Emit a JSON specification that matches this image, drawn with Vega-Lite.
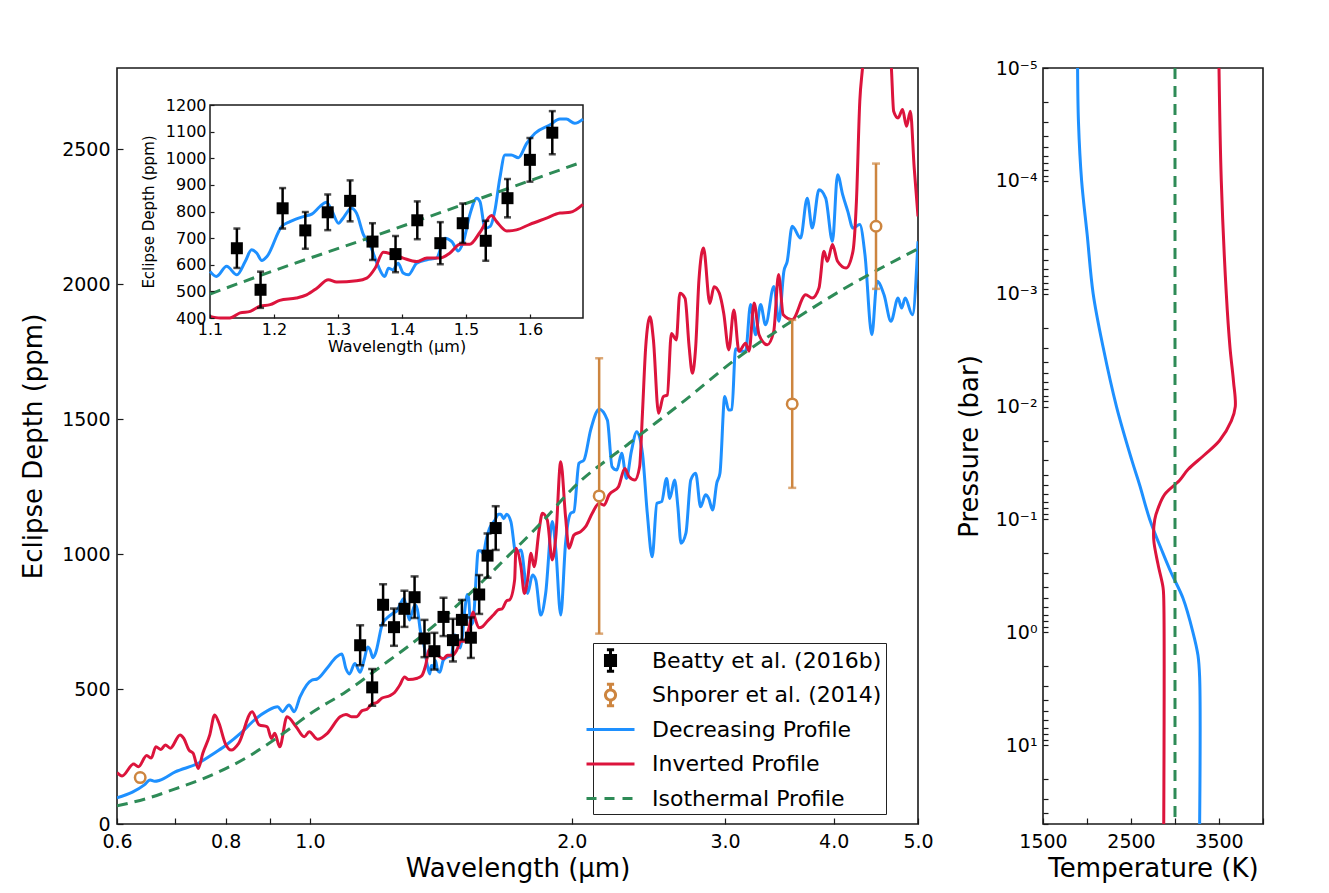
{
  "$schema": "https://vega.github.io/schema/vega-lite/v6.json",
  "background": "white",
  "padding": {"left": 19, "top": 58, "right": 5, "bottom": 5},
  "bounds": "flush",
  "spacing": 125,
  "config": {
    "font": "DejaVu Sans",
    "view": {"stroke": "#1a1a1a", "strokeWidth": 1.6},
    "axis": {"grid": false, "domain": false, "labelColor": "#000", "titleColor": "#000", "titleFontWeight": "normal", "tickColor": "#1a1a1a", "tickWidth": 1.2, "labelFlush": false, "labelOverlap": false, "labelBound": false},
    "legend": {"labelColor": "#000"}
  },
  "datasets": {
    "models": [
      {"series":"Decreasing Profile","wl":0.600,"depth":97},
      {"series":"Decreasing Profile","wl":0.625,"depth":118},
      {"series":"Decreasing Profile","wl":0.645,"depth":145},
      {"series":"Decreasing Profile","wl":0.655,"depth":163},
      {"series":"Decreasing Profile","wl":0.663,"depth":158},
      {"series":"Decreasing Profile","wl":0.672,"depth":162},
      {"series":"Decreasing Profile","wl":0.700,"depth":193},
      {"series":"Decreasing Profile","wl":0.744,"depth":225},
      {"series":"Decreasing Profile","wl":0.776,"depth":262},
      {"series":"Decreasing Profile","wl":0.799,"depth":290},
      {"series":"Decreasing Profile","wl":0.835,"depth":340},
      {"series":"Decreasing Profile","wl":0.863,"depth":385},
      {"series":"Decreasing Profile","wl":0.894,"depth":420},
      {"series":"Decreasing Profile","wl":0.918,"depth":434},
      {"series":"Decreasing Profile","wl":0.930,"depth":416},
      {"series":"Decreasing Profile","wl":0.946,"depth":441},
      {"series":"Decreasing Profile","wl":0.959,"depth":416},
      {"series":"Decreasing Profile","wl":0.974,"depth":471},
      {"series":"Decreasing Profile","wl":1.005,"depth":533},
      {"series":"Decreasing Profile","wl":1.019,"depth":537},
      {"series":"Decreasing Profile","wl":1.045,"depth":575},
      {"series":"Decreasing Profile","wl":1.072,"depth":618},
      {"series":"Decreasing Profile","wl":1.088,"depth":630},
      {"series":"Decreasing Profile","wl":1.100,"depth":575},
      {"series":"Decreasing Profile","wl":1.110,"depth":556},
      {"series":"Decreasing Profile","wl":1.126,"depth":594},
      {"series":"Decreasing Profile","wl":1.142,"depth":562},
      {"series":"Decreasing Profile","wl":1.155,"depth":612},
      {"series":"Decreasing Profile","wl":1.165,"depth":656},
      {"series":"Decreasing Profile","wl":1.173,"depth":644},
      {"series":"Decreasing Profile","wl":1.181,"depth":616},
      {"series":"Decreasing Profile","wl":1.189,"depth":631},
      {"series":"Decreasing Profile","wl":1.212,"depth":744},
      {"series":"Decreasing Profile","wl":1.225,"depth":762},
      {"series":"Decreasing Profile","wl":1.246,"depth":781},
      {"series":"Decreasing Profile","wl":1.259,"depth":790},
      {"series":"Decreasing Profile","wl":1.272,"depth":819},
      {"series":"Decreasing Profile","wl":1.282,"depth":835},
      {"series":"Decreasing Profile","wl":1.290,"depth":806},
      {"series":"Decreasing Profile","wl":1.301,"depth":756},
      {"series":"Decreasing Profile","wl":1.308,"depth":775},
      {"series":"Decreasing Profile","wl":1.321,"depth":812},
      {"series":"Decreasing Profile","wl":1.329,"depth":794},
      {"series":"Decreasing Profile","wl":1.340,"depth":712},
      {"series":"Decreasing Profile","wl":1.350,"depth":675},
      {"series":"Decreasing Profile","wl":1.362,"depth":600},
      {"series":"Decreasing Profile","wl":1.373,"depth":556},
      {"series":"Decreasing Profile","wl":1.379,"depth":587},
      {"series":"Decreasing Profile","wl":1.386,"depth":581},
      {"series":"Decreasing Profile","wl":1.394,"depth":606},
      {"series":"Decreasing Profile","wl":1.402,"depth":569},
      {"series":"Decreasing Profile","wl":1.410,"depth":562},
      {"series":"Decreasing Profile","wl":1.423,"depth":606},
      {"series":"Decreasing Profile","wl":1.439,"depth":619},
      {"series":"Decreasing Profile","wl":1.454,"depth":625},
      {"series":"Decreasing Profile","wl":1.467,"depth":700},
      {"series":"Decreasing Profile","wl":1.478,"depth":687},
      {"series":"Decreasing Profile","wl":1.488,"depth":652},
      {"series":"Decreasing Profile","wl":1.496,"depth":687},
      {"series":"Decreasing Profile","wl":1.506,"depth":787},
      {"series":"Decreasing Profile","wl":1.517,"depth":850},
      {"series":"Decreasing Profile","wl":1.522,"depth":837},
      {"series":"Decreasing Profile","wl":1.530,"depth":737},
      {"series":"Decreasing Profile","wl":1.538,"depth":744},
      {"series":"Decreasing Profile","wl":1.545,"depth":800},
      {"series":"Decreasing Profile","wl":1.553,"depth":925},
      {"series":"Decreasing Profile","wl":1.561,"depth":1012},
      {"series":"Decreasing Profile","wl":1.571,"depth":1012},
      {"series":"Decreasing Profile","wl":1.582,"depth":1002},
      {"series":"Decreasing Profile","wl":1.595,"depth":1056},
      {"series":"Decreasing Profile","wl":1.608,"depth":1094},
      {"series":"Decreasing Profile","wl":1.631,"depth":1125},
      {"series":"Decreasing Profile","wl":1.647,"depth":1147},
      {"series":"Decreasing Profile","wl":1.657,"depth":1147},
      {"series":"Decreasing Profile","wl":1.670,"depth":1131},
      {"series":"Decreasing Profile","wl":1.683,"depth":1147},
      {"series":"Decreasing Profile","wl":1.702,"depth":1120},
      {"series":"Decreasing Profile","wl":1.725,"depth":1003},
      {"series":"Decreasing Profile","wl":1.748,"depth":1015},
      {"series":"Decreasing Profile","wl":1.779,"depth":854},
      {"series":"Decreasing Profile","wl":1.802,"depth":922},
      {"series":"Decreasing Profile","wl":1.818,"depth":904},
      {"series":"Decreasing Profile","wl":1.842,"depth":774},
      {"series":"Decreasing Profile","wl":1.866,"depth":854},
      {"series":"Decreasing Profile","wl":1.899,"depth":1120},
      {"series":"Decreasing Profile","wl":1.917,"depth":1015},
      {"series":"Decreasing Profile","wl":1.942,"depth":774},
      {"series":"Decreasing Profile","wl":1.967,"depth":1040},
      {"series":"Decreasing Profile","wl":1.994,"depth":1151},
      {"series":"Decreasing Profile","wl":2.011,"depth":1157},
      {"series":"Decreasing Profile","wl":2.038,"depth":1336},
      {"series":"Decreasing Profile","wl":2.065,"depth":1348},
      {"series":"Decreasing Profile","wl":2.102,"depth":1459},
      {"series":"Decreasing Profile","wl":2.150,"depth":1536},
      {"series":"Decreasing Profile","wl":2.197,"depth":1496},
      {"series":"Decreasing Profile","wl":2.225,"depth":1323},
      {"series":"Decreasing Profile","wl":2.253,"depth":1311},
      {"series":"Decreasing Profile","wl":2.282,"depth":1373},
      {"series":"Decreasing Profile","wl":2.311,"depth":1280},
      {"series":"Decreasing Profile","wl":2.341,"depth":1379},
      {"series":"Decreasing Profile","wl":2.375,"depth":1453},
      {"series":"Decreasing Profile","wl":2.411,"depth":1373},
      {"series":"Decreasing Profile","wl":2.442,"depth":1151},
      {"series":"Decreasing Profile","wl":2.474,"depth":990},
      {"series":"Decreasing Profile","wl":2.505,"depth":1188},
      {"series":"Decreasing Profile","wl":2.537,"depth":1194},
      {"series":"Decreasing Profile","wl":2.570,"depth":1280},
      {"series":"Decreasing Profile","wl":2.592,"depth":1206},
      {"series":"Decreasing Profile","wl":2.625,"depth":1274},
      {"series":"Decreasing Profile","wl":2.648,"depth":1175},
      {"series":"Decreasing Profile","wl":2.670,"depth":1040},
      {"series":"Decreasing Profile","wl":2.705,"depth":1077},
      {"series":"Decreasing Profile","wl":2.740,"depth":1274},
      {"series":"Decreasing Profile","wl":2.776,"depth":1299},
      {"series":"Decreasing Profile","wl":2.812,"depth":1175},
      {"series":"Decreasing Profile","wl":2.849,"depth":1219},
      {"series":"Decreasing Profile","wl":2.873,"depth":1206},
      {"series":"Decreasing Profile","wl":2.903,"depth":1163},
      {"series":"Decreasing Profile","wl":2.935,"depth":1262},
      {"series":"Decreasing Profile","wl":2.960,"depth":1299},
      {"series":"Decreasing Profile","wl":2.998,"depth":1583},
      {"series":"Decreasing Profile","wl":3.029,"depth":1533},
      {"series":"Decreasing Profile","wl":3.055,"depth":1535},
      {"series":"Decreasing Profile","wl":3.085,"depth":1760},
      {"series":"Decreasing Profile","wl":3.126,"depth":1751},
      {"series":"Decreasing Profile","wl":3.168,"depth":1751},
      {"series":"Decreasing Profile","wl":3.210,"depth":1924},
      {"series":"Decreasing Profile","wl":3.253,"depth":1812},
      {"series":"Decreasing Profile","wl":3.296,"depth":1924},
      {"series":"Decreasing Profile","wl":3.340,"depth":1849},
      {"series":"Decreasing Profile","wl":3.414,"depth":1991},
      {"series":"Decreasing Profile","wl":3.460,"depth":1862},
      {"series":"Decreasing Profile","wl":3.506,"depth":2047},
      {"series":"Decreasing Profile","wl":3.537,"depth":2084},
      {"series":"Decreasing Profile","wl":3.584,"depth":2214},
      {"series":"Decreasing Profile","wl":3.664,"depth":2170},
      {"series":"Decreasing Profile","wl":3.729,"depth":2318},
      {"series":"Decreasing Profile","wl":3.779,"depth":2207},
      {"series":"Decreasing Profile","wl":3.847,"depth":2349},
      {"series":"Decreasing Profile","wl":3.916,"depth":2318},
      {"series":"Decreasing Profile","wl":3.987,"depth":2158},
      {"series":"Decreasing Profile","wl":4.041,"depth":2405},
      {"series":"Decreasing Profile","wl":4.096,"depth":2331},
      {"series":"Decreasing Profile","wl":4.152,"depth":2269},
      {"series":"Decreasing Profile","wl":4.209,"depth":2207},
      {"series":"Decreasing Profile","wl":4.286,"depth":2220},
      {"series":"Decreasing Profile","wl":4.345,"depth":2109},
      {"series":"Decreasing Profile","wl":4.425,"depth":1812},
      {"series":"Decreasing Profile","wl":4.487,"depth":2010},
      {"series":"Decreasing Profile","wl":4.570,"depth":1960},
      {"series":"Decreasing Profile","wl":4.655,"depth":1862},
      {"series":"Decreasing Profile","wl":4.743,"depth":1948},
      {"series":"Decreasing Profile","wl":4.788,"depth":1911},
      {"series":"Decreasing Profile","wl":4.833,"depth":1948},
      {"series":"Decreasing Profile","wl":4.926,"depth":1886},
      {"series":"Decreasing Profile","wl":5.000,"depth":2158},
      {"series":"Inverted Profile","wl":0.600,"depth":190},
      {"series":"Inverted Profile","wl":0.608,"depth":178},
      {"series":"Inverted Profile","wl":0.627,"depth":222},
      {"series":"Inverted Profile","wl":0.635,"depth":212},
      {"series":"Inverted Profile","wl":0.649,"depth":254},
      {"series":"Inverted Profile","wl":0.657,"depth":244},
      {"series":"Inverted Profile","wl":0.665,"depth":286},
      {"series":"Inverted Profile","wl":0.674,"depth":276},
      {"series":"Inverted Profile","wl":0.682,"depth":293},
      {"series":"Inverted Profile","wl":0.691,"depth":281},
      {"series":"Inverted Profile","wl":0.709,"depth":330},
      {"series":"Inverted Profile","wl":0.716,"depth":317},
      {"series":"Inverted Profile","wl":0.726,"depth":274},
      {"series":"Inverted Profile","wl":0.734,"depth":262},
      {"series":"Inverted Profile","wl":0.744,"depth":206},
      {"series":"Inverted Profile","wl":0.753,"depth":262},
      {"series":"Inverted Profile","wl":0.767,"depth":330},
      {"series":"Inverted Profile","wl":0.777,"depth":404},
      {"series":"Inverted Profile","wl":0.786,"depth":373},
      {"series":"Inverted Profile","wl":0.799,"depth":299},
      {"series":"Inverted Profile","wl":0.812,"depth":274},
      {"series":"Inverted Profile","wl":0.828,"depth":299},
      {"series":"Inverted Profile","wl":0.858,"depth":416},
      {"series":"Inverted Profile","wl":0.874,"depth":367},
      {"series":"Inverted Profile","wl":0.893,"depth":360},
      {"series":"Inverted Profile","wl":0.903,"depth":317},
      {"series":"Inverted Profile","wl":0.911,"depth":336},
      {"series":"Inverted Profile","wl":0.923,"depth":286},
      {"series":"Inverted Profile","wl":0.941,"depth":397},
      {"series":"Inverted Profile","wl":0.964,"depth":360},
      {"series":"Inverted Profile","wl":0.985,"depth":323},
      {"series":"Inverted Profile","wl":0.998,"depth":342},
      {"series":"Inverted Profile","wl":1.020,"depth":314},
      {"series":"Inverted Profile","wl":1.047,"depth":336},
      {"series":"Inverted Profile","wl":1.083,"depth":397},
      {"series":"Inverted Profile","wl":1.100,"depth":406},
      {"series":"Inverted Profile","wl":1.116,"depth":397},
      {"series":"Inverted Profile","wl":1.131,"depth":397},
      {"series":"Inverted Profile","wl":1.147,"depth":419},
      {"series":"Inverted Profile","wl":1.163,"depth":425},
      {"series":"Inverted Profile","wl":1.178,"depth":444},
      {"series":"Inverted Profile","wl":1.194,"depth":450},
      {"series":"Inverted Profile","wl":1.209,"depth":466},
      {"series":"Inverted Profile","wl":1.235,"depth":475},
      {"series":"Inverted Profile","wl":1.251,"depth":487},
      {"series":"Inverted Profile","wl":1.267,"depth":512},
      {"series":"Inverted Profile","wl":1.285,"depth":544},
      {"series":"Inverted Profile","wl":1.298,"depth":535},
      {"series":"Inverted Profile","wl":1.329,"depth":540},
      {"series":"Inverted Profile","wl":1.345,"depth":550},
      {"series":"Inverted Profile","wl":1.358,"depth":587},
      {"series":"Inverted Profile","wl":1.371,"depth":647},
      {"series":"Inverted Profile","wl":1.384,"depth":640},
      {"series":"Inverted Profile","wl":1.402,"depth":625},
      {"series":"Inverted Profile","wl":1.423,"depth":612},
      {"series":"Inverted Profile","wl":1.439,"depth":625},
      {"series":"Inverted Profile","wl":1.459,"depth":625},
      {"series":"Inverted Profile","wl":1.475,"depth":644},
      {"series":"Inverted Profile","wl":1.491,"depth":677},
      {"series":"Inverted Profile","wl":1.506,"depth":677},
      {"series":"Inverted Profile","wl":1.522,"depth":722},
      {"series":"Inverted Profile","wl":1.540,"depth":785},
      {"series":"Inverted Profile","wl":1.548,"depth":762},
      {"series":"Inverted Profile","wl":1.564,"depth":727},
      {"series":"Inverted Profile","wl":1.579,"depth":731},
      {"series":"Inverted Profile","wl":1.600,"depth":752},
      {"series":"Inverted Profile","wl":1.626,"depth":775},
      {"series":"Inverted Profile","wl":1.647,"depth":794},
      {"series":"Inverted Profile","wl":1.663,"depth":797},
      {"series":"Inverted Profile","wl":1.683,"depth":827},
      {"series":"Inverted Profile","wl":1.696,"depth":830},
      {"series":"Inverted Profile","wl":1.719,"depth":904},
      {"series":"Inverted Profile","wl":1.725,"depth":1021},
      {"series":"Inverted Profile","wl":1.748,"depth":953},
      {"series":"Inverted Profile","wl":1.764,"depth":854},
      {"series":"Inverted Profile","wl":1.779,"depth":904},
      {"series":"Inverted Profile","wl":1.795,"depth":1003},
      {"series":"Inverted Profile","wl":1.810,"depth":953},
      {"series":"Inverted Profile","wl":1.834,"depth":1089},
      {"series":"Inverted Profile","wl":1.850,"depth":1151},
      {"series":"Inverted Profile","wl":1.874,"depth":1126},
      {"series":"Inverted Profile","wl":1.899,"depth":978},
      {"series":"Inverted Profile","wl":1.917,"depth":1064},
      {"series":"Inverted Profile","wl":1.942,"depth":1342},
      {"series":"Inverted Profile","wl":1.967,"depth":1138},
      {"series":"Inverted Profile","wl":1.985,"depth":1021},
      {"series":"Inverted Profile","wl":2.011,"depth":1070},
      {"series":"Inverted Profile","wl":2.047,"depth":1083},
      {"series":"Inverted Profile","wl":2.074,"depth":1101},
      {"series":"Inverted Profile","wl":2.111,"depth":1151},
      {"series":"Inverted Profile","wl":2.150,"depth":1188},
      {"series":"Inverted Profile","wl":2.178,"depth":1181},
      {"series":"Inverted Profile","wl":2.207,"depth":1219},
      {"series":"Inverted Profile","wl":2.263,"depth":1249},
      {"series":"Inverted Profile","wl":2.301,"depth":1317},
      {"series":"Inverted Profile","wl":2.327,"depth":1286},
      {"series":"Inverted Profile","wl":2.363,"depth":1274},
      {"series":"Inverted Profile","wl":2.393,"depth":1323},
      {"series":"Inverted Profile","wl":2.411,"depth":1521},
      {"series":"Inverted Profile","wl":2.432,"depth":1768},
      {"series":"Inverted Profile","wl":2.460,"depth":1879},
      {"series":"Inverted Profile","wl":2.482,"depth":1793},
      {"series":"Inverted Profile","wl":2.516,"depth":1521},
      {"series":"Inverted Profile","wl":2.548,"depth":1583},
      {"series":"Inverted Profile","wl":2.575,"depth":1589},
      {"series":"Inverted Profile","wl":2.603,"depth":1817},
      {"series":"Inverted Profile","wl":2.637,"depth":1793},
      {"series":"Inverted Profile","wl":2.662,"depth":1966},
      {"series":"Inverted Profile","wl":2.699,"depth":1947},
      {"series":"Inverted Profile","wl":2.728,"depth":1768},
      {"series":"Inverted Profile","wl":2.752,"depth":1669},
      {"series":"Inverted Profile","wl":2.776,"depth":1768},
      {"series":"Inverted Profile","wl":2.800,"depth":2015},
      {"series":"Inverted Profile","wl":2.834,"depth":2133},
      {"series":"Inverted Profile","wl":2.882,"depth":1928},
      {"series":"Inverted Profile","wl":2.914,"depth":1990},
      {"series":"Inverted Profile","wl":2.955,"depth":1966},
      {"series":"Inverted Profile","wl":2.990,"depth":1891},
      {"series":"Inverted Profile","wl":3.030,"depth":1756},
      {"series":"Inverted Profile","wl":3.071,"depth":1904},
      {"series":"Inverted Profile","wl":3.113,"depth":1751},
      {"series":"Inverted Profile","wl":3.168,"depth":1781},
      {"series":"Inverted Profile","wl":3.197,"depth":1751},
      {"series":"Inverted Profile","wl":3.240,"depth":1930},
      {"series":"Inverted Profile","wl":3.283,"depth":1812},
      {"series":"Inverted Profile","wl":3.355,"depth":1775},
      {"series":"Inverted Profile","wl":3.413,"depth":1825},
      {"series":"Inverted Profile","wl":3.457,"depth":2035},
      {"series":"Inverted Profile","wl":3.500,"depth":1886},
      {"series":"Inverted Profile","wl":3.584,"depth":1868},
      {"series":"Inverted Profile","wl":3.714,"depth":1960},
      {"series":"Inverted Profile","wl":3.779,"depth":1948},
      {"series":"Inverted Profile","wl":3.847,"depth":1985},
      {"series":"Inverted Profile","wl":3.898,"depth":2121},
      {"series":"Inverted Profile","wl":3.933,"depth":2084},
      {"series":"Inverted Profile","wl":3.987,"depth":2146},
      {"series":"Inverted Profile","wl":4.041,"depth":2084},
      {"series":"Inverted Profile","wl":4.133,"depth":2059},
      {"series":"Inverted Profile","wl":4.209,"depth":2121},
      {"series":"Inverted Profile","wl":4.248,"depth":2306},
      {"series":"Inverted Profile","wl":4.286,"depth":2677},
      {"series":"Inverted Profile","wl":4.317,"depth":2800},
      {"series":"Inverted Profile","wl":4.400,"depth":3100},
      {"series":"Inverted Profile","wl":4.550,"depth":3150},
      {"series":"Inverted Profile","wl":4.660,"depth":2800},
      {"series":"Inverted Profile","wl":4.688,"depth":2640},
      {"series":"Inverted Profile","wl":4.743,"depth":2615},
      {"series":"Inverted Profile","wl":4.800,"depth":2646},
      {"series":"Inverted Profile","wl":4.850,"depth":2584},
      {"series":"Inverted Profile","wl":4.900,"depth":2640},
      {"series":"Inverted Profile","wl":4.950,"depth":2430},
      {"series":"Inverted Profile","wl":5.000,"depth":2250},
      {"series":"Isothermal Profile","wl":0.600,"depth":67},
      {"series":"Isothermal Profile","wl":0.650,"depth":95},
      {"series":"Isothermal Profile","wl":0.700,"depth":130},
      {"series":"Isothermal Profile","wl":0.750,"depth":165},
      {"series":"Isothermal Profile","wl":0.800,"depth":205},
      {"series":"Isothermal Profile","wl":0.850,"depth":250},
      {"series":"Isothermal Profile","wl":0.900,"depth":302},
      {"series":"Isothermal Profile","wl":0.950,"depth":355},
      {"series":"Isothermal Profile","wl":1.000,"depth":408},
      {"series":"Isothermal Profile","wl":1.100,"depth":490},
      {"series":"Isothermal Profile","wl":1.200,"depth":578},
      {"series":"Isothermal Profile","wl":1.350,"depth":702},
      {"series":"Isothermal Profile","wl":1.500,"depth":830},
      {"series":"Isothermal Profile","wl":1.683,"depth":987},
      {"series":"Isothermal Profile","wl":1.850,"depth":1120},
      {"series":"Isothermal Profile","wl":2.000,"depth":1240},
      {"series":"Isothermal Profile","wl":2.330,"depth":1411},
      {"series":"Isothermal Profile","wl":2.700,"depth":1570},
      {"series":"Isothermal Profile","wl":3.080,"depth":1719},
      {"series":"Isothermal Profile","wl":3.580,"depth":1862},
      {"series":"Isothermal Profile","wl":4.200,"depth":2000},
      {"series":"Isothermal Profile","wl":5.000,"depth":2130}
    ],
    "beatty": [
      {"wl":1.142,"depth":662,"lo":588,"hi":736},
      {"wl":1.179,"depth":506,"lo":438,"hi":574},
      {"wl":1.2135,"depth":812,"lo":736,"hi":888},
      {"wl":1.249,"depth":729,"lo":660,"hi":798},
      {"wl":1.284,"depth":797,"lo":730,"hi":864},
      {"wl":1.319,"depth":840,"lo":763,"hi":917},
      {"wl":1.354,"depth":687,"lo":618,"hi":756},
      {"wl":1.390,"depth":640,"lo":572,"hi":708},
      {"wl":1.424,"depth":767,"lo":696,"hi":838},
      {"wl":1.460,"depth":681,"lo":602,"hi":760},
      {"wl":1.495,"depth":756,"lo":682,"hi":830},
      {"wl":1.531,"depth":690,"lo":615,"hi":765},
      {"wl":1.565,"depth":850,"lo":778,"hi":922},
      {"wl":1.600,"depth":994,"lo":912,"hi":1076},
      {"wl":1.635,"depth":1096,"lo":1015,"hi":1177}
    ],
    "shporer": [
      {"wl":0.638,"depth":172,"lo":172,"hi":172},
      {"wl":2.150,"depth":1215,"lo":705,"hi":1725},
      {"wl":3.584,"depth":1556,"lo":1245,"hi":1867},
      {"wl":4.474,"depth":2214,"lo":1982,"hi":2446}
    ],
    "legend": [
      {"series":"Beatty et al. (2016b)"},
      {"series":"Shporer et al. (2014)"},
      {"series":"Decreasing Profile"},
      {"series":"Inverted Profile"},
      {"series":"Isothermal Profile"}
    ],
    "profiles": [
      {"series":"Decreasing Profile","P":0.00001,"T":1893},
      {"series":"Decreasing Profile","P":0.00003,"T":1903},
      {"series":"Decreasing Profile","P":0.0001,"T":1939},
      {"series":"Decreasing Profile","P":0.0003,"T":2002},
      {"series":"Decreasing Profile","P":0.001,"T":2070},
      {"series":"Decreasing Profile","P":0.003,"T":2184},
      {"series":"Decreasing Profile","P":0.01,"T":2335},
      {"series":"Decreasing Profile","P":0.03,"T":2510},
      {"series":"Decreasing Profile","P":0.05,"T":2600},
      {"series":"Decreasing Profile","P":0.1,"T":2713},
      {"series":"Decreasing Profile","P":0.2,"T":2864},
      {"series":"Decreasing Profile","P":0.3,"T":2959},
      {"series":"Decreasing Profile","P":0.5,"T":3091},
      {"series":"Decreasing Profile","P":1,"T":3204},
      {"series":"Decreasing Profile","P":1.6,"T":3261},
      {"series":"Decreasing Profile","P":2.5,"T":3280},
      {"series":"Decreasing Profile","P":50,"T":3280},
      {"series":"Inverted Profile","P":0.00001,"T":3500},
      {"series":"Inverted Profile","P":0.0001,"T":3526},
      {"series":"Inverted Profile","P":0.001,"T":3583},
      {"series":"Inverted Profile","P":0.003,"T":3625},
      {"series":"Inverted Profile","P":0.006,"T":3665},
      {"series":"Inverted Profile","P":0.01,"T":3685},
      {"series":"Inverted Profile","P":0.0134,"T":3640},
      {"series":"Inverted Profile","P":0.02,"T":3507},
      {"series":"Inverted Profile","P":0.027,"T":3330},
      {"series":"Inverted Profile","P":0.036,"T":3150},
      {"series":"Inverted Profile","P":0.045,"T":3053},
      {"series":"Inverted Profile","P":0.06,"T":2883},
      {"series":"Inverted Profile","P":0.08,"T":2807},
      {"series":"Inverted Profile","P":0.1,"T":2770},
      {"series":"Inverted Profile","P":0.15,"T":2758},
      {"series":"Inverted Profile","P":0.25,"T":2807},
      {"series":"Inverted Profile","P":0.4,"T":2864},
      {"series":"Inverted Profile","P":0.5,"T":2872},
      {"series":"Inverted Profile","P":50,"T":2872},
      {"series":"Isothermal Profile","P":0.00001,"T":3000},
      {"series":"Isothermal Profile","P":50,"T":3000}
    ]
  },
  "hconcat": [
    {
      "width": 801,
      "height": 756,
      "resolve": {"scale": {"x": "independent", "y": "independent"}},
      "layer": [
        {
          "layer": [
            {
              "data": {"name": "models"},
              "transform": [{"filter": "datum.series != 'Isothermal Profile'"}],
              "mark": {"type": "line", "strokeWidth": 3, "clip": true, "interpolate": "monotone"},
              "encoding": {
                "x": {"field": "wl", "type": "quantitative", "title": "Wavelength (μm)", "scale": {"type": "log", "domain": [0.6, 5], "nice": false},
                  "axis": {"orient": "bottom", "values": [0.6, 0.7, 0.8, 0.9, 1, 2, 3, 4, 5], "labelExpr": "(datum.value == 0.7 || datum.value == 0.9) ? '' : format(datum.value, '.1f')", "titleFontSize": 26, "labelFontSize": 19, "tickSize": -6, "labelPadding": 14, "titlePadding": 4, "zindex": 1}},
                "y": {"field": "depth", "type": "quantitative", "title": "Eclipse Depth (ppm)", "scale": {"domain": [0, 2800], "nice": false, "zero": false},
                  "axis": {"orient": "left", "values": [0, 500, 1000, 1500, 2000, 2500], "format": "d", "titleFontSize": 26, "labelFontSize": 19, "tickSize": -6, "labelPadding": 13, "titlePadding": 15, "zindex": 1}},
                "color": {"field": "series", "type": "nominal", "legend": null,
                  "scale": {"domain": ["Decreasing Profile", "Inverted Profile", "Isothermal Profile"], "range": ["#1E90FF", "#DC143C", "#2E8B57"]}}
              }
            },
            {
              "data": {"name": "models"},
              "transform": [{"filter": "datum.series == 'Isothermal Profile'"}],
              "mark": {"type": "line", "strokeWidth": 3, "clip": true, "interpolate": "monotone", "color": "#2E8B57", "strokeDash": [11, 7]},
              "encoding": {
                "x": {"field": "wl", "type": "quantitative", "title": "Wavelength (μm)"},
                "y": {"field": "depth", "type": "quantitative", "title": "Eclipse Depth (ppm)"}
              }
            },
            {
              "data": {"name": "beatty"},
              "mark": {"type": "errorbar", "color": "black", "ticks": {"size": 8, "thickness": 2.5, "color": "black"}, "rule": {"strokeWidth": 2.5, "color": "black"}},
              "encoding": {
                "x": {"field": "wl", "type": "quantitative", "title": "Wavelength (μm)"},
                "y": {"field": "lo", "type": "quantitative", "title": "Eclipse Depth (ppm)"},
                "y2": {"field": "hi"}
              }
            },
            {
              "data": {"name": "beatty"},
              "mark": {"type": "point", "shape": "square", "filled": true, "color": "black", "size": 144, "opacity": 1},
              "encoding": {
                "x": {"field": "wl", "type": "quantitative", "title": "Wavelength (μm)"},
                "y": {"field": "depth", "type": "quantitative", "title": "Eclipse Depth (ppm)"}
              }
            },
            {
              "data": {"name": "shporer"},
              "transform": [{"filter": "datum.hi > datum.lo"}],
              "mark": {"type": "errorbar", "color": "#CD853F", "ticks": {"size": 8, "thickness": 2.5, "color": "#CD853F"}, "rule": {"strokeWidth": 2.5, "color": "#CD853F"}},
              "encoding": {
                "x": {"field": "wl", "type": "quantitative", "title": "Wavelength (μm)"},
                "y": {"field": "lo", "type": "quantitative", "title": "Eclipse Depth (ppm)"},
                "y2": {"field": "hi"}
              }
            },
            {
              "data": {"name": "shporer"},
              "mark": {"type": "point", "shape": "circle", "filled": false, "fill": "white", "stroke": "#CD853F", "strokeWidth": 2.5, "size": 110, "opacity": 1},
              "encoding": {
                "x": {"field": "wl", "type": "quantitative", "title": "Wavelength (μm)"},
                "y": {"field": "depth", "type": "quantitative", "title": "Eclipse Depth (ppm)"}
              }
            },
            {
              "data": {"name": "legend"},
              "transform": [{"filter": "datum.series == 'none'"}],
              "mark": {"type": "point", "filled": true, "strokeWidth": 3, "opacity": 1},
              "encoding": {
                "fill": {"field": "series", "type": "nominal",
                  "scale": {"domain": ["Beatty et al. (2016b)", "Shporer et al. (2014)", "Decreasing Profile", "Inverted Profile", "Isothermal Profile"], "range": ["#000000", "#ffffff", "transparent", "transparent", "transparent"]},
                  "legend": {"title": null, "orient": "none", "legendX": 476, "legendY": 575, "padding": 4, "strokeColor": "#222", "fillColor": "white", "labelFontSize": 22, "labelLimit": 500, "labelExpr": "datum.label + ' '", "symbolSize": 576, "symbolStrokeWidth": 3, "labelOffset": 28, "rowPadding": -0.5, "gridAlign": "all", "symbolOpacity": 1}},
                "stroke": {"field": "series", "type": "nominal",
                  "scale": {"domain": ["Beatty et al. (2016b)", "Shporer et al. (2014)", "Decreasing Profile", "Inverted Profile", "Isothermal Profile"], "range": ["#000000", "#CD853F", "#1E90FF", "#DC143C", "#2E8B57"]},
                  "legend": {"title": null}},
                "shape": {"field": "series", "type": "nominal",
                  "scale": {"domain": ["Beatty et al. (2016b)", "Shporer et al. (2014)", "Decreasing Profile", "Inverted Profile", "Isothermal Profile"], "range": [
                    "M-0.42,-0.42H0.42V0.42H-0.42Z M0,-0.9V0.9 M-0.3,-0.9H0.3 M-0.3,0.9H0.3",
                    "M0.42,0A0.42,0.42,0,1,1,-0.42,0A0.42,0.42,0,1,1,0.42,0Z M0,-0.9V-0.42 M0,0.42V0.9 M-0.3,-0.9H0.3 M-0.3,0.9H0.3",
                    "M-2,0H2",
                    "M-2,0H2",
                    "M-2,0H2"]},
                  "legend": {"title": null}},
                "strokeDash": {"field": "series", "type": "nominal",
                  "scale": {"domain": ["Beatty et al. (2016b)", "Shporer et al. (2014)", "Decreasing Profile", "Inverted Profile", "Isothermal Profile"], "range": [[1, 0], [1, 0], [1, 0], [1, 0], [10, 8]]},
                  "legend": {"title": null}}
              }
            }
          ]
        },
        {
          "layer": [
            {
              "data": {"values": [{"x1": 1.1, "x2": 1.683, "y1": 400, "y2": 1200}]},
              "mark": {"type": "rect", "fill": "white", "stroke": "#1a1a1a", "strokeWidth": 1.5},
              "encoding": {
                "x": {"field": "x1", "type": "quantitative", "title": "Wavelength (μm)",
                  "scale": {"domain": [1.1, 1.683], "range": [93, 466], "nice": false, "zero": false},
                  "axis": {"orient": "bottom", "offset": -506, "values": [1.1, 1.2, 1.3, 1.4, 1.5, 1.6], "format": ".1f", "titleFontSize": 16, "labelFontSize": 16, "tickSize": -4, "labelPadding": 7, "titlePadding": 1, "zindex": 2}},
                "x2": {"field": "x2"},
                "y": {"field": "y1", "type": "quantitative", "title": "Eclipse Depth (ppm)",
                  "scale": {"domain": [400, 1200], "range": [250, 37], "nice": false, "zero": false, "clamp": true},
                  "axis": {"orient": "left", "offset": -93, "values": [400, 500, 600, 700, 800, 900, 1000, 1100, 1200], "format": "d", "titleFontSize": 15, "labelFontSize": 16, "tickSize": -4, "labelPadding": 8, "titlePadding": 9, "zindex": 2}},
                "y2": {"field": "y2"}
              }
            },
            {
              "data": {"name": "models"},
              "transform": [{"filter": "datum.wl >= 1.1 && datum.wl <= 1.6831 && datum.series != 'Isothermal Profile'"}],
              "mark": {"type": "line", "strokeWidth": 3, "interpolate": "monotone"},
              "encoding": {
                "x": {"field": "wl", "type": "quantitative", "title": "Wavelength (μm)"},
                "y": {"field": "depth", "type": "quantitative", "title": "Eclipse Depth (ppm)"},
                "color": {"field": "series", "type": "nominal", "legend": null}
              }
            },
            {
              "data": {"name": "models"},
              "transform": [{"filter": "datum.wl >= 1.1 && datum.wl <= 1.6831 && datum.series == 'Isothermal Profile'"}],
              "mark": {"type": "line", "strokeWidth": 3, "interpolate": "monotone", "color": "#2E8B57", "strokeDash": [11, 7]},
              "encoding": {
                "x": {"field": "wl", "type": "quantitative", "title": "Wavelength (μm)"},
                "y": {"field": "depth", "type": "quantitative", "title": "Eclipse Depth (ppm)"}
              }
            },
            {
              "data": {"name": "beatty"},
              "mark": {"type": "errorbar", "color": "black", "ticks": {"size": 7, "thickness": 2.5, "color": "black"}, "rule": {"strokeWidth": 2.5, "color": "black"}},
              "encoding": {
                "x": {"field": "wl", "type": "quantitative", "title": "Wavelength (μm)"},
                "y": {"field": "lo", "type": "quantitative", "title": "Eclipse Depth (ppm)"},
                "y2": {"field": "hi"}
              }
            },
            {
              "data": {"name": "beatty"},
              "mark": {"type": "point", "shape": "square", "filled": true, "color": "black", "size": 144, "opacity": 1},
              "encoding": {
                "x": {"field": "wl", "type": "quantitative", "title": "Wavelength (μm)"},
                "y": {"field": "depth", "type": "quantitative", "title": "Eclipse Depth (ppm)"}
              }
            }
          ]
        }
      ]
    },
    {
      "width": 220,
      "height": 756,
      "data": {"name": "profiles"},
      "encoding": {
        "x": {"field": "T", "type": "quantitative", "title": "Temperature (K)", "scale": {"domain": [1500, 4000], "nice": false, "zero": false},
          "axis": {"values": [1500, 2000, 2500, 3000, 3500, 4000], "labelExpr": "(datum.value - 1500) % 1000 == 0 ? format(datum.value, 'd') : ''", "titleFontSize": 26, "labelFontSize": 19, "tickSize": -6, "labelPadding": 14, "titlePadding": 4}},
        "y": {"field": "P", "type": "quantitative", "title": "Pressure (bar)", "scale": {"type": "log", "domain": [0.00001, 50], "reverse": true, "nice": false},
          "axis": {"values": [0.00001,0.00002,0.00003,0.00004,0.00005,0.00006,0.00007,0.00008,0.00009,0.0001,0.0002,0.0003,0.0004,0.0005,0.0006,0.0007,0.0008,0.0009,0.001,0.002,0.003,0.004,0.005,0.006,0.007,0.008,0.009,0.01,0.02,0.03,0.04,0.05,0.06,0.07,0.08,0.09,0.1,0.2,0.3,0.4,0.5,0.6,0.7,0.8,0.9,1,2,3,4,5,6,7,8,9,10,20,30,40,50],
            "labelExpr": "abs(log(datum.value)/LN10 - round(log(datum.value)/LN10)) > 0.001 ? '' : ['10⁻⁵','10⁻⁴','10⁻³','10⁻²','10⁻¹','10⁰','10¹'][round(log(datum.value)/LN10) + 5]",
            "titleFontSize": 26, "labelFontSize": 19, "tickSize": -5, "labelPadding": 11, "titlePadding": 13}},
        "order": {"field": "P", "type": "quantitative"}
      },
      "layer": [
        {
          "transform": [{"filter": "datum.series != 'Isothermal Profile'"}],
          "mark": {"type": "line", "strokeWidth": 3, "clip": true, "interpolate": "catmull-rom"},
          "encoding": {"color": {"field": "series", "type": "nominal", "legend": null}}
        },
        {
          "transform": [{"filter": "datum.series == 'Isothermal Profile'"}],
          "mark": {"type": "line", "strokeWidth": 3, "clip": true, "color": "#2E8B57", "strokeDash": [11, 7]},
          "encoding": {}
        }
      ]
    }
  ]
}
